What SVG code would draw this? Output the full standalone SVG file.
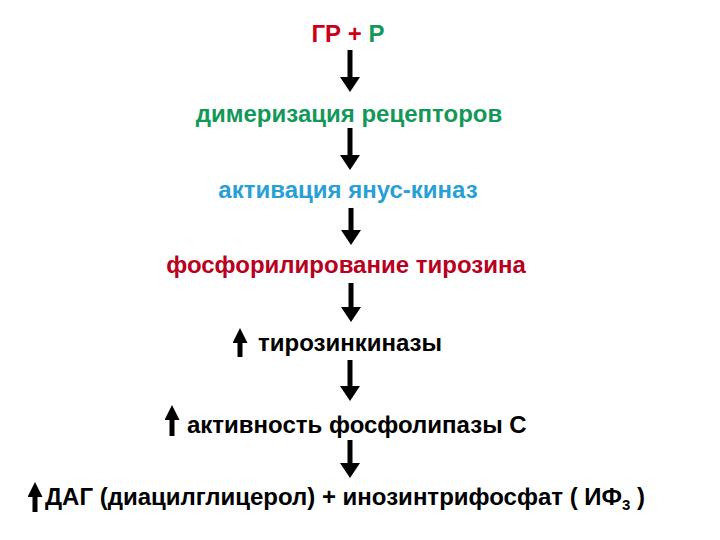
<svg xmlns="http://www.w3.org/2000/svg" width="720" height="540" viewBox="0 0 720 540">
<defs>
<style>
text{font-family:"Liberation Sans",Arial,sans-serif;font-weight:bold;font-size:24px}
.c{text-anchor:middle}
.red{fill:#cc0018}
.green{fill:#14985a}
.blue{fill:#2a9fd6}
.dred{fill:#b80020}
.blk{fill:#000}
.shaft{stroke:#000;stroke-width:5}
</style>
<marker id="ah" markerWidth="3" markerHeight="4" refX="0" refY="2" orient="auto" markerUnits="strokeWidth" viewBox="0 0 3 4">
<path d="M0,0 L3,2 L0,4 Z" fill="#000"/>
</marker>
<marker id="up" markerWidth="3" markerHeight="3" refX="0" refY="1.5" orient="auto" markerUnits="strokeWidth" viewBox="0 0 3 3">
<path d="M0,0 L3,1.5 L0,3 Z" fill="#000"/>
</marker>
</defs>
<rect width="720" height="540" fill="#fff"/>
<g id="connectors">
<path class="shaft" d="M350,50 V77" marker-end="url(#ah)"/>
<path class="shaft" d="M350,128 V155" marker-end="url(#ah)"/>
<path class="shaft" d="M351,208 V230" marker-end="url(#ah)"/>
<path class="shaft" d="M351,283 V307" marker-end="url(#ah)"/>
<path class="shaft" d="M350,360 V386" marker-end="url(#ah)"/>
<path class="shaft" d="M350,440 V463" marker-end="url(#ah)"/>
</g>
<g id="n1"><text class="c" x="348" y="42"><tspan class="red">ГР + </tspan><tspan class="green">Р</tspan></text></g>
<g id="n2"><text class="c green" x="349" y="122">димеризация рецепторов</text></g>
<g id="n3"><text class="c blue" x="348" y="198">активация янус-киназ</text></g>
<g id="n4"><text class="c dred" x="346" y="273">фосфорилирование тирозина</text></g>
<g id="n5">
<path class="shaft" d="M240,357 V343" marker-end="url(#up)"/>
<text class="blk" x="258" y="351">тирозинкиназы</text></g>
<g id="n6">
<path class="shaft" d="M172,436 V420" marker-end="url(#up)"/>
<text class="blk" x="187" y="433">активность фосфолипазы С</text></g>
<g id="n7">
<path class="shaft" d="M35,512 V497" marker-end="url(#up)"/>
<text class="blk" x="45" y="505" font-size="24.5">ДАГ (диацилглицерол) + инозинтрифосфат ( ИФ<tspan dy="5" font-size="15">3</tspan><tspan dy="-5"> )</tspan></text></g>
</svg>
